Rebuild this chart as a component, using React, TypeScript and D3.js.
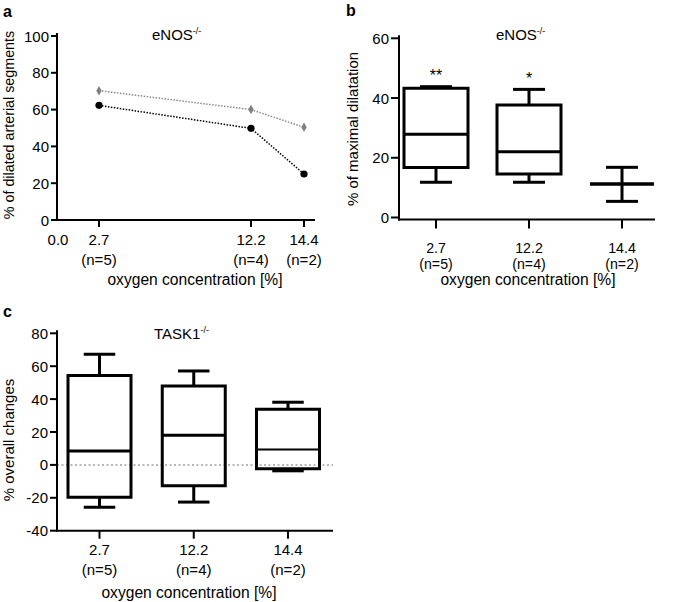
import React from "react";
import * as d3 from "d3";

// ---------- data ----------
const oxygenLabels = ["2.7", "12.2", "14.4"];
const nLabels = ["(n=5)", "(n=4)", "(n=2)"];

// panel a
const aXValues = [2.7, 12.2, 14.4];
const aXTicks = [0, 2.7, 12.2, 14.4];
const aXTickLabels = ["0.0", "2.7", "12.2", "14.4"];
const aGray = [70.3, 60, 50.4];
const aBlack = [62.3, 49.8, 25];
const aYTicks = [0, 20, 40, 60, 80, 100];

// panel b
const bMin = [11.8, 11.8, 5.4];
const bQ1 = [16.7, 14.6, 11.2];
const bMedian = [27.9, 22.0, 11.2];
const bQ3 = [43.3, 37.7, 11.2];
const bMax = [43.8, 42.9, 16.8];
const bStars = ["**", "*", ""];
const bYTicks = [0, 20, 40, 60];

// panel c
const cMin = [-25.8, -22.6, -3.6];
const cQ1 = [-19.7, -12.6, -2.4];
const cMedian = [8.5, 18.0, 9.4];
const cQ3 = [54.3, 48.0, 33.8];
const cMax = [67.3, 57.1, 38.1];
const cYTicks = [-40, -20, 0, 20, 40, 60, 80];

const FONT = "'Liberation Sans', Arial, Helvetica, sans-serif";

type Box = { min: number; q1: number; med: number; q3: number; max: number };

function BoxPanel(props: {
  boxes: Box[];
  x: d3.ScalePoint<string>;
  y: d3.ScaleLinear<number, number>;
  boxW: number;
  thinMedianIdx?: number;
}) {
  const { boxes, x, y, boxW, thinMedianIdx } = props;
  return (
    <g>
      {boxes.map((b, i) => {
        const cx = x(oxygenLabels[i]) as number;
        const x0 = cx - boxW / 2;
        const x1 = cx + boxW / 2;
        const capW = boxW / 2;
        const outline = `M${x0},${y(b.q3)}H${x1}V${y(b.q1)}H${x0}Z`;
        return (
          <g key={i} fill="none" stroke="#000" strokeWidth={3}>
            <line x1={cx} x2={cx} y1={y(b.q3)} y2={y(b.max)} />
            <line x1={cx} x2={cx} y1={y(b.q1)} y2={y(b.min)} />
            <line x1={cx - capW / 2} x2={cx + capW / 2} y1={y(b.max)} y2={y(b.max)} />
            <line x1={cx - capW / 2} x2={cx + capW / 2} y1={y(b.min)} y2={y(b.min)} />
            <path d={outline} strokeLinejoin="miter" />
            <line
              x1={x0}
              x2={x1}
              y1={y(b.med)}
              y2={y(b.med)}
              strokeWidth={thinMedianIdx === i ? 2 : 3}
            />
          </g>
        );
      })}
    </g>
  );
}

function Title(props: { x: number; y: number; main: string; sup: string }) {
  return (
    <text x={props.x} y={props.y} fontSize={15} fontFamily={FONT}>
      {props.main}
      <tspan fontSize={9} dy={-6}>
        {props.sup}
      </tspan>
    </text>
  );
}

export default function App() {
  // ---------- panel a ----------
  const axL = 57, axB = 220, axR = 315;
  const ax = d3.scaleLinear().domain([0, 2.7, 12.2, 14.4]).range([57, 99, 251, 304]);
  const ay = d3.scaleLinear().domain([0, 100]).range([220, 36]);
  const lineA = d3
    .line<number>()
    .x((_, i) => ax(aXValues[i]))
    .y((d) => ay(d));

  // ---------- panel b ----------
  const bxL = 399, bxR = 655, bAxisY = 219.5;
  const bx = d3.scalePoint<string>().domain(oxygenLabels).range([436, 622]);
  const by = d3.scaleLinear().domain([0, 60]).range([217.5, 38.3]);
  const bBoxes: Box[] = oxygenLabels.map((_, i) => ({
    min: bMin[i], q1: bQ1[i], med: bMedian[i], q3: bQ3[i], max: bMax[i],
  }));

  // ---------- panel c ----------
  const cxL = 57, cxR = 333;
  const cx = d3.scalePoint<string>().domain(oxygenLabels).range([99.5, 288]);
  const cy = d3.scaleLinear().domain([-40, 80]).range([530.7, 333.3]);
  const cBoxes: Box[] = oxygenLabels.map((_, i) => ({
    min: cMin[i], q1: cQ1[i], med: cMedian[i], q3: cQ3[i], max: cMax[i],
  }));

  const diamond = d3.symbol().type(d3.symbolDiamond).size(26)() as string;

  return (
    <svg
      width={685}
      height={602}
      style={{ position: "absolute", left: 0, top: 0, background: "#fff" }}
      fontFamily={FONT}
    >
      <rect x={0} y={0} width={685} height={602} fill="#fff" />

      {/* ================= Panel a ================= */}
      <text x={3} y={17} fontSize={16} fontWeight="bold">a</text>
      <Title x={152} y={40} main="eNOS" sup="-/-" />
      <line x1={axL} x2={axL} y1={ay(100) - 3} y2={axB + 1} stroke="#000" strokeWidth={2} />
      <line x1={axL - 1} x2={axR} y1={axB} y2={axB} stroke="#000" strokeWidth={2} />
      {aYTicks.map((t) => (
        <g key={t}>
          <line x1={axL - 6} x2={axL} y1={ay(t)} y2={ay(t)} stroke="#000" strokeWidth={2} />
          <text x={axL - 8} y={ay(t) + 5.5} fontSize={15} textAnchor="end">{t}</text>
        </g>
      ))}
      {aXTicks.map((t, i) => (
        <g key={t}>
          {i > 0 && (
            <line x1={ax(t)} x2={ax(t)} y1={axB} y2={axB + 7} stroke="#000" strokeWidth={2} />
          )}
          <text x={ax(t) + (i === 0 ? 1 : 0)} y={244.5} fontSize={15} textAnchor="middle">
            {aXTickLabels[i]}
          </text>
          {i > 0 && (
            <text x={ax(t)} y={264.5} fontSize={15} textAnchor="middle">{nLabels[i - 1]}</text>
          )}
        </g>
      ))}
      <text x={195} y={284.5} fontSize={15.6} textAnchor="middle">oxygen concentration [%]</text>
      <text transform={`translate(13.5,125) rotate(-90)`} fontSize={14.3} textAnchor="middle">
        % of dilated arterial segments
      </text>
      <path d={lineA(aGray) as string} fill="none" stroke="#8a8a8a" strokeWidth={1.5} strokeDasharray="1.5,1.5" />
      <path d={lineA(aBlack) as string} fill="none" stroke="#000" strokeWidth={1.5} strokeDasharray="1.5,1.5" />
      {aGray.map((v, i) => (
        <path key={"g" + i} d={diamond} transform={`translate(${ax(aXValues[i])},${ay(v)})`} fill="#808080" />
      ))}
      {aBlack.map((v, i) => (
        <circle key={"b" + i} cx={ax(aXValues[i])} cy={ay(v)} r={3.6} fill="#000" />
      ))}

      {/* ================= Panel b ================= */}
      <text x={346} y={16} fontSize={16} fontWeight="bold">b</text>
      <Title x={496} y={40} main="eNOS" sup="-/-" />
      <line x1={bxL} x2={bxL} y1={by(60) - 3} y2={bAxisY + 1} stroke="#000" strokeWidth={2} />
      <line x1={bxL - 1} x2={bxR} y1={bAxisY} y2={bAxisY} stroke="#000" strokeWidth={2} />
      {bYTicks.map((t) => (
        <g key={t}>
          <line x1={bxL - 8} x2={bxL} y1={by(t)} y2={by(t)} stroke="#000" strokeWidth={2} />
          <text x={bxL - 10} y={by(t) + 5.5} fontSize={15} textAnchor="end">{t}</text>
        </g>
      ))}
      {oxygenLabels.map((l, i) => (
        <g key={l}>
          <line x1={bx(l)!} x2={bx(l)!} y1={bAxisY} y2={bAxisY + 9} stroke="#000" strokeWidth={2} />
          <text x={bx(l)!} y={252.5} fontSize={14.2} textAnchor="middle">{l}</text>
          <text x={bx(l)!} y={269} fontSize={14.2} textAnchor="middle">{nLabels[i]}</text>
          {bStars[i] && (
            <text x={bx(l)!} y={by(bMax[i]) - 5.5} fontSize={16} textAnchor="middle">{bStars[i]}</text>
          )}
        </g>
      ))}
      <text x={528} y={285} fontSize={15.6} textAnchor="middle">oxygen concentration [%]</text>
      <text transform={`translate(358,129) rotate(-90)`} fontSize={15} textAnchor="middle">
        % of maximal dilatation
      </text>
      <BoxPanel boxes={bBoxes} x={bx} y={by} boxW={64} />

      {/* ================= Panel c ================= */}
      <text x={3} y={317} fontSize={16} fontWeight="bold">c</text>
      <Title x={154} y={339} main="TASK1" sup="-/-" />
      <line x1={cxL} x2={cxR} y1={cy(0)} y2={cy(0)} stroke="#a0a0a0" strokeWidth={1.5} strokeDasharray="2,2.5" />
      <line x1={cxL} x2={cxL} y1={cy(80) - 3} y2={cy(-40) + 1} stroke="#000" strokeWidth={2} />
      <line x1={cxL - 1} x2={cxR} y1={cy(-40)} y2={cy(-40)} stroke="#000" strokeWidth={2} />
      {cYTicks.map((t) => (
        <g key={t}>
          <line x1={cxL - 7} x2={cxL} y1={cy(t)} y2={cy(t)} stroke="#000" strokeWidth={2} />
          <text x={cxL - 9} y={cy(t) + 5.5} fontSize={15} textAnchor="end">{t}</text>
        </g>
      ))}
      {oxygenLabels.map((l, i) => (
        <g key={l}>
          <line x1={cx(l)!} x2={cx(l)!} y1={cy(-40)} y2={cy(-40) + 8} stroke="#000" strokeWidth={2} />
          <text x={cx(l)!} y={555} fontSize={15} textAnchor="middle">{l}</text>
          <text x={cx(l)!} y={574.5} fontSize={15} textAnchor="middle">{nLabels[i]}</text>
        </g>
      ))}
      <text x={189} y={598} fontSize={15.6} textAnchor="middle">oxygen concentration [%]</text>
      <text transform={`translate(14,440) rotate(-90)`} fontSize={15} textAnchor="middle">
        % overall changes
      </text>
      <BoxPanel boxes={cBoxes} x={cx} y={cy} boxW={63} thinMedianIdx={2} />
    </svg>
  );
}
